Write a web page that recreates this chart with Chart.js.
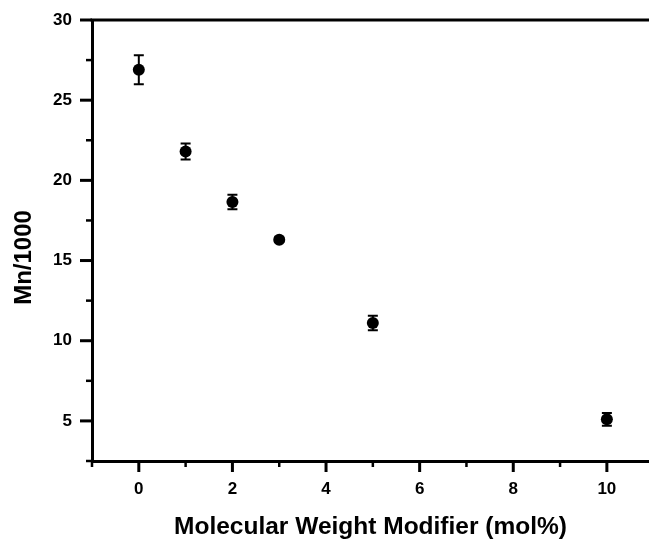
<!DOCTYPE html>
<html lang="en">
<head>
  <meta charset="UTF-8" />
  <title>Mn vs Molecular Weight Modifier</title>
  <script src="https://cdn.jsdelivr.net/npm/chart.js"></script>
  <style>
    body {
      margin: 0;
      background: #fff;
      overflow: hidden;
    }
    canvas {
      display: block;
    }
  </style>
</head>
<body>
  <canvas id="mnChart" width="649" height="539"></canvas>

  <script>
    // data
    const modifierMol = [0, 1, 2, 3, 5, 10];
    const mnK = [26.9, 21.8, 18.65, 16.3, 11.1, 5.1];
    const mnErr = [0.9, 0.5, 0.45, 0.15, 0.45, 0.4];

    // axis ticks
    const xMajorTicks = [0, 2, 4, 6, 8, 10];
    const xMinorTicks = [-1, 1, 3, 5, 7, 9];
    const yMajorTicks = [5, 10, 15, 20, 25, 30];
    const yMinorTicks = [2.5, 7.5, 12.5, 17.5, 22.5, 27.5];

    const yTitle = 'Mn/1000';
    const xTitle = 'Molecular Weight Modifier (mol%)';

    const FONT = 'Arial, "Liberation Sans", Helvetica, sans-serif';

    // error bars, drawn under the points
    const errorBars = {
      id: 'errorBars',
      beforeDatasetsDraw(chart) {
        const { ctx, scales: { x, y } } = chart;
        ctx.save();
        ctx.strokeStyle = '#000';
        ctx.lineWidth = 2;
        modifierMol.forEach((xv, i) => {
          const px = x.getPixelForValue(xv);
          const top = y.getPixelForValue(mnK[i] + mnErr[i]);
          const bot = y.getPixelForValue(mnK[i] - mnErr[i]);
          ctx.beginPath();
          ctx.moveTo(px, top);
          ctx.lineTo(px, bot);
          ctx.moveTo(px - 5, top);
          ctx.lineTo(px + 5, top);
          ctx.moveTo(px - 5, bot);
          ctx.lineTo(px + 5, bot);
          ctx.stroke();
        });
        ctx.restore();
      }
    };

    // top frame line, major/minor tick marks (outward) and the y title
    const axisMarks = {
      id: 'axisMarks',
      afterDraw(chart) {
        const { ctx, chartArea, scales: { x, y } } = chart;
        ctx.save();
        ctx.strokeStyle = '#000';
        ctx.lineCap = 'butt';

        ctx.lineWidth = 3;
        ctx.beginPath();
        ctx.moveTo(chartArea.left - 1.5, chartArea.top);
        ctx.lineTo(chart.width, chartArea.top);
        ctx.stroke();

        const tick = (x1, y1, x2, y2, w) => {
          ctx.lineWidth = w;
          ctx.beginPath();
          ctx.moveTo(x1, y1);
          ctx.lineTo(x2, y2);
          ctx.stroke();
        };
        xMajorTicks.forEach(v => {
          const px = x.getPixelForValue(v);
          tick(px, chartArea.bottom, px, chartArea.bottom + 11, 3);
        });
        xMinorTicks.forEach(v => {
          const px = x.getPixelForValue(v);
          tick(px, chartArea.bottom, px, chartArea.bottom + 6, 2.5);
        });
        yMajorTicks.forEach(v => {
          const py = y.getPixelForValue(v);
          tick(chartArea.left - 12, py, chartArea.left, py, 3);
        });
        yMinorTicks.forEach(v => {
          const py = y.getPixelForValue(v);
          tick(chartArea.left - 6, py, chartArea.left, py, 2.5);
        });

        // y title sits a bit below the middle of the axis in the original
        ctx.fillStyle = '#000';
        ctx.font = 'bold 24px ' + FONT;
        ctx.textAlign = 'center';
        ctx.textBaseline = 'middle';
        ctx.translate(y.left + 24, (chartArea.top + chartArea.bottom) / 2 + 17);
        ctx.rotate(-Math.PI / 2);
        ctx.fillText(yTitle, 0, 0);
        ctx.restore();
      }
    };

    const ctx = document.getElementById('mnChart').getContext('2d');

    new Chart(ctx, {
      type: 'scatter',
      data: {
        datasets: [{
          label: yTitle,
          data: modifierMol.map((v, i) => ({ x: v, y: mnK[i] })),
          backgroundColor: '#000',
          borderColor: '#000',
          borderWidth: 0,
          pointRadius: 6,
          pointHoverRadius: 6
        }]
      },
      options: {
        responsive: false,
        animation: false,
        layout: { autoPadding: false, padding: { top: 20, right: 0, left: 0, bottom: 0 } },
        plugins: {
          legend: { display: false },
          tooltip: { enabled: false }
        },
        scales: {
          x: {
            type: 'linear',
            min: -1,
            max: 10.9,
            afterBuildTicks: s => { s.ticks = xMajorTicks.map(v => ({ value: v })); },
            afterFit: s => { s.height = 78; s.paddingLeft = 0; s.paddingRight = 0; },
            grid: { display: false, drawTicks: false },
            border: { display: true, color: '#000', width: 3 },
            ticks: {
              padding: 18,
              color: '#000',
              font: { family: FONT, size: 17, weight: 'bold' }
            },
            title: {
              display: true,
              text: xTitle,
              color: '#000',
              font: { family: FONT, size: 24.5, weight: 'bold', lineHeight: 1 },
              padding: { top: 0, bottom: 0 }
            }
          },
          y: {
            type: 'linear',
            min: 2.5,
            max: 30,
            afterBuildTicks: s => { s.ticks = yMajorTicks.map(v => ({ value: v })); },
            afterFit: s => { s.width = 92; s.paddingTop = 0; s.paddingBottom = 0; },
            grid: { display: false, drawTicks: false },
            border: { display: true, color: '#000', width: 3 },
            ticks: {
              padding: 20,
              color: '#000',
              font: { family: FONT, size: 17, weight: 'bold' }
            },
            title: { display: false }
          }
        }
      },
      plugins: [errorBars, axisMarks]
    });
  </script>
</body>
</html>
